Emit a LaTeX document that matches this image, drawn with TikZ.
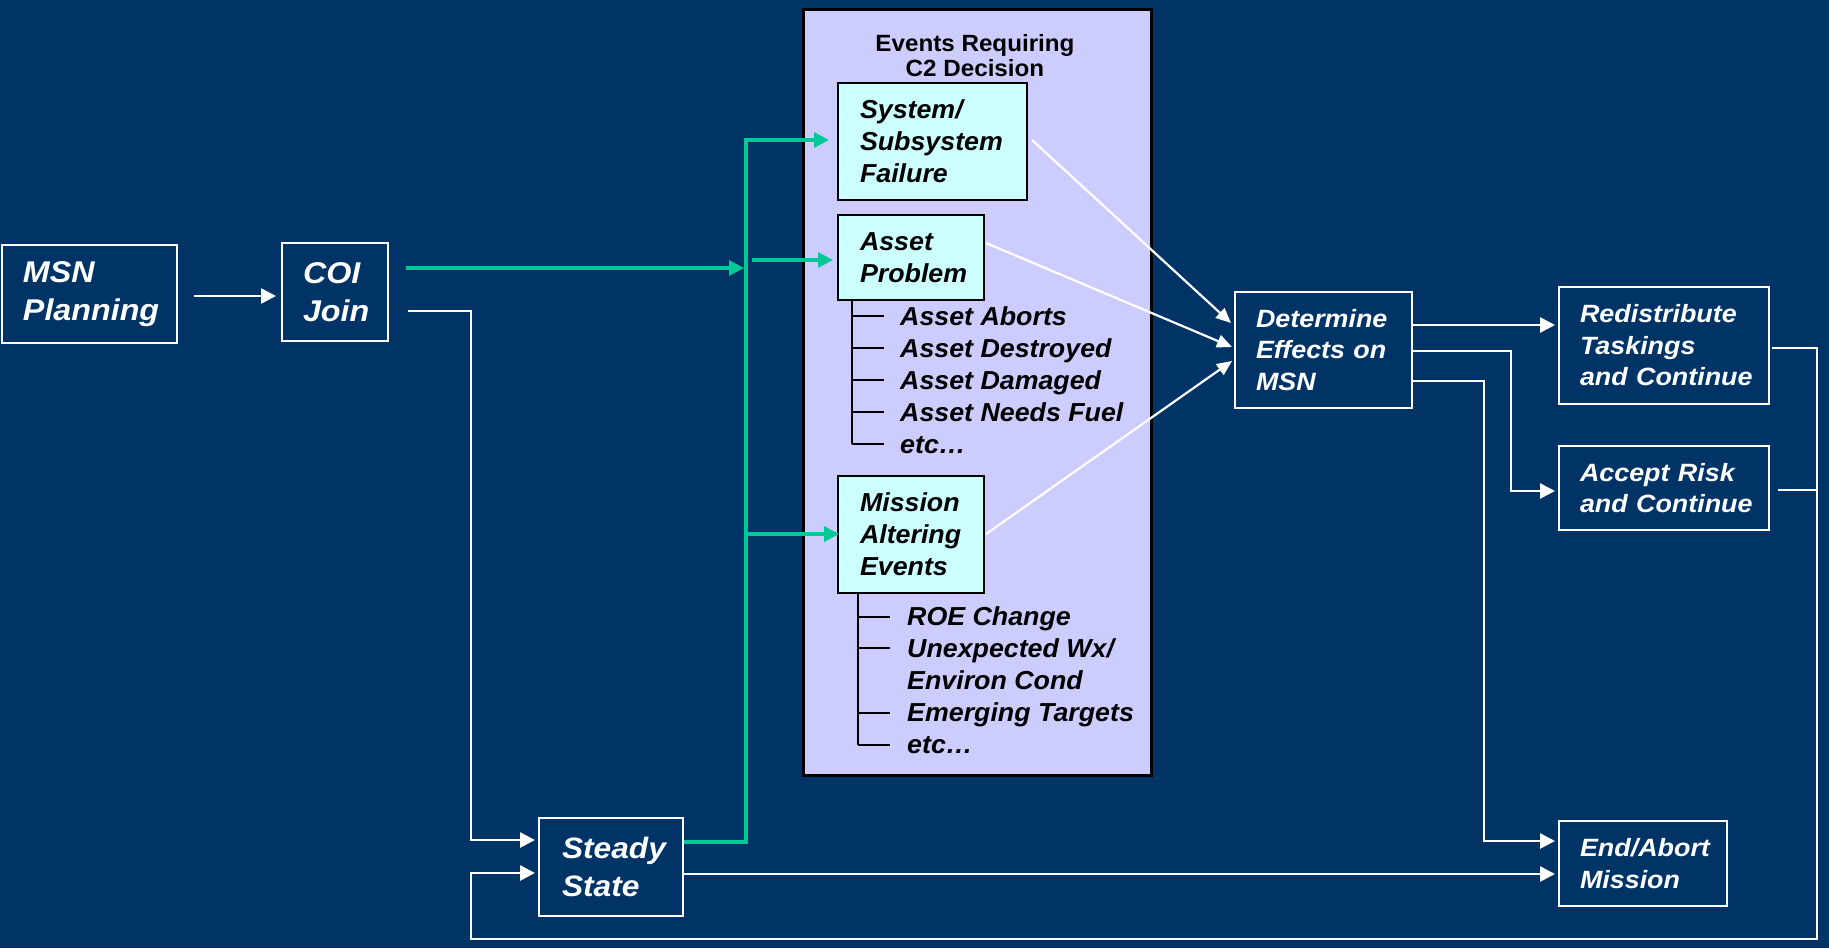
\documentclass[tikz,border=0pt]{standalone}
\usepackage{fontspec}
\setmainfont{Liberation Sans}
\newfontfamily\wfont{Liberation Sans}[FakeStretch=1.075]
\newfontfamily\bfont{Liberation Sans}[FakeStretch=1.03]
\usetikzlibrary{arrows.meta,calc}
\definecolor{navy}{RGB}{0,51,102}
\definecolor{lav}{RGB}{204,204,255}
\definecolor{cyanbox}{RGB}{204,255,255}
\definecolor{grn}{RGB}{0,200,150}
\tikzset{
  wbox/.style={draw=white, line width=2pt, text=white, inner xsep=21pt, inner ysep=0pt, align=left},
  cbox/.style={draw=black, line width=2pt, fill=cyanbox, text=black, inner xsep=22pt, inner ysep=0pt, align=left,
    font=\bfont\bfseries\itshape\fontsize{26}{32}\selectfont},
  big/.style={font=\wfont\bfseries\itshape\fontsize{30}{37.5}\selectfont},
  mid/.style={font=\wfont\bfseries\itshape\fontsize{25}{31.5}\selectfont},
  item/.style={anchor=base west, inner sep=0pt, text=black, font=\bfont\bfseries\itshape\fontsize{26}{32}\selectfont},
  warrow/.style={draw=white, line width=2.7pt, -{Triangle[length=15pt,width=15pt]}},
  wline/.style={draw=white, line width=2.7pt},
  darrow/.style={draw=white, line width=2.2pt, -{Triangle[length=15pt,width=13pt]}},
  garrow/.style={draw=grn, line width=3.2pt, -{Triangle[length=15pt,width=15pt]}},
  bline/.style={draw=black, line width=2pt},
}
\begin{document}
\begin{tikzpicture}[x=1pt,y=-1pt]
\fill[navy] (0,0) rectangle (1829,948);
\useasboundingbox (0,0) rectangle (1829,948);

% left boxes
\node[wbox, big, text width=133pt, minimum height=98pt] (msn) at (89.5,294) {\raisebox{-4pt}{MSN}\\\raisebox{-4pt}{Planning}};
\node[wbox, big, text width=64pt, minimum height=98pt] (coi) at (335,292) {COI\\Join};
\node[wbox, big, font=\wfont\bfseries\itshape\fontsize{29.5}{37.5}\selectfont, inner xsep=23pt, text width=98pt, minimum height=98pt] (steady) at (611,867) {Steady\\State};

% events panel
\node[draw=black, line width=3pt, fill=lav, minimum width=348pt, minimum height=766pt, inner sep=0pt] (ev) at (977,392) {};
\node[anchor=north, inner sep=0pt, align=center, text=black, font=\bfont\bfseries\fontsize{23.5}{25}\selectfont] (title) at (975,34) {Events Requiring\\C2 Decision};
\node[cbox, text width=145pt, minimum height=117pt] (sys) at (932.5,141.5) {System/\\Subsystem\\Failure};
\node[cbox, text width=102pt, minimum height=85pt] (asset) at (911,257.5) {Asset\\Problem};
\node[cbox, text width=102pt, minimum height=117pt] (mission) at (911,534.5) {Mission\\Altering\\Events};

\node[item] (a1) at (900,325) {Asset Aborts};
\node[item] (a2) at (900,357) {Asset Destroyed};
\node[item] (a3) at (900,389) {Asset Damaged};
\node[item] (a4) at (900,421) {Asset Needs Fuel};
\node[item] (a5) at (900,453) {etc\ldots};

\node[item] (m1) at (907,625) {ROE Change};
\node[item] (m2) at (907,657) {Unexpected Wx/};
\node[item] (m3) at (907,689) {Environ Cond};
\node[item] (m4) at (907,721) {Emerging Targets};
\node[item] (m5) at (907,753) {etc\ldots};

% brackets
\draw[bline] (asset.south -| 852,0) -- (852,444);
\foreach \n/\y in {a1/316,a2/348,a3/380,a4/412,a5/444}{
  \draw[bline] (852,\y) -- ($(\n.west |- 0,\y)+(-16,0)$);
}
\draw[bline] (mission.south -| 858,0) -- (858,745);
\foreach \n/\y in {m1/617,m2/648,m4/713,m5/745}{
  \draw[bline] (858,\y) -- ($(\n.west |- 0,\y)+(-17,0)$);
}

% right boxes
\node[wbox, mid, text width=135pt, minimum height=116pt] (det) at (1323.5,350) {Determine\\Effects on\\MSN};
\node[wbox, mid, text width=168pt, minimum height=117pt] (redis) at (1664,345.5) {Redistribute\\Taskings\\\mbox{and Continue}};
\node[wbox, mid, text width=168pt, minimum height=84pt] (accept) at (1664,488) {Accept Risk\\\mbox{and Continue}};
\node[wbox, mid, text width=126pt, minimum height=85pt] (endab) at (1643,863.5) {End/Abort\\Mission};

% coordinates
\coordinate (gtop) at (746,140);
\coordinate (gbot) at (746,842);
\coordinate (rR) at (1817,348);
\coordinate (bR) at (1817,939);
\coordinate (bL) at (471,939);

% connectors
\draw[warrow] ($(msn.east)+(16,2)$) -- ($(coi.west)+(-5,4)$);
\draw[garrow] ($(coi.east)+(17,-24)$) -- ++(338,0);
\draw[warrow] ($(coi.east)+(19,19)$) -- ++(63,0) |- ($(steady.west)+(-3,-27)$);
\draw[garrow] ($(steady.east)+(0,-25)$) -- (gbot) -- (gtop) -- ($(sys.west)+(-8,-1.5)$);
\draw[garrow] ($(gtop)+(6,120)$) -- ($(asset.west)+(-4,2.5)$);
\draw[garrow] ($(gtop)+(0,394)$) -- ($(mission.west)+(2,-0.5)$);

\draw[darrow] ($(sys.east)+(4,-1.5)$) -- ($(det.west)+(-3,-27)$);
\draw[darrow] ($(asset.east)+(1,-14.5)$) -- ($(det.west)+(-2,-3)$);
\draw[darrow] ($(mission.east)+(1,-0.5)$) -- ($(det.west)+(-2,11)$);

\draw[warrow] ($(det.east)+(0,-25)$) -- ($(redis.west)+(-3,-20.5)$);
\draw[warrow] ($(det.east)+(0,1)$) -- ++(98,0) |- ($(accept.west)+(-3,3)$);
\draw[warrow] ($(det.east)+(0,31)$) -- ++(71,0) |- ($(endab.west)+(-3,-22.5)$);

\draw[warrow] ($(steady.east)+(0,7)$) -- ($(endab.west)+(-3,10.5)$);
\draw[warrow] ($(redis.east)+(2,2.5)$) -- (rR) -- (bR) -- (bL) |- ($(steady.west)+(-3,6)$);
\draw[wline] ($(accept.east)+(8,2)$) -- ($(rR |- accept.east)+(0,2)$);
\end{tikzpicture}
\end{document}
